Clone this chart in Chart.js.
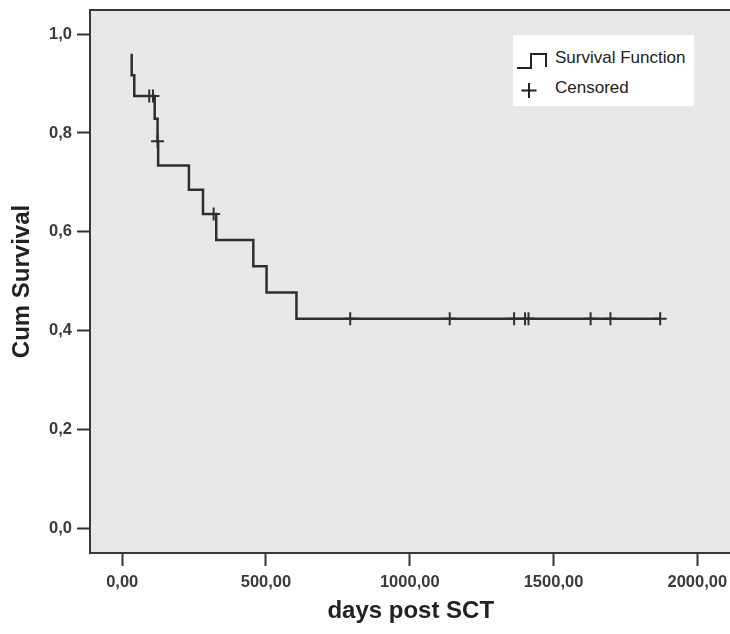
<!DOCTYPE html>
<html>
<head>
<meta charset="utf-8">
<title>Kaplan-Meier survival</title>
<script src="https://cdn.jsdelivr.net/npm/chart.js@4.4.1/dist/chart.umd.min.js"></script>
<style>
  html, body { margin: 0; padding: 0; background: #fff; overflow: hidden; }
  #wrap { position: relative; width: 730px; height: 634px; overflow: hidden; }
  #km { position: absolute; left: 0; top: 0; }
  .legend {
    position: absolute; left: 513px; top: 35px; width: 181px; height: 71px;
    background: #fff; color: #222;
    font-family: "Liberation Sans", Arial, sans-serif; font-size: 17px; line-height: 18px;
  }
  .legend span { position: absolute; left: 42px; white-space: nowrap; }
  .legend svg { position: absolute; left: 0; top: 0; }
</style>
</head>
<body>
<div id="wrap">
  <canvas id="km" width="740" height="634"></canvas>
  <div class="legend">
    <svg width="60" height="71">
      <path d="M4 33 H18 V19 H33 V32" fill="none" stroke="#222" stroke-width="2"/>
      <path d="M8.5 55.5 H23.5 M16 48 V63" fill="none" stroke="#222" stroke-width="2"/>
    </svg>
    <span style="top:14px">Survival Function</span>
    <span style="top:44px">Censored</span>
  </div>
</div>
<script>
// survival estimate at each event (day, cumulative survival)
const stepDays = [29, 33, 42, 113, 123, 125, 232, 281, 327, 456, 502, 606];
const survival = [0.958, 0.917, 0.875, 0.829, 0.783, 0.734, 0.685, 0.636, 0.583, 0.530, 0.477, 0.424];
const lastFollowUp = 1871;

// censored patients
const censorDays = [94, 107, 123, 318, 793, 1139, 1363, 1401, 1413, 1629, 1698, 1871];
const censorSurvival = [0.875, 0.875, 0.783, 0.636, 0.424, 0.424, 0.424, 0.424, 0.424, 0.424, 0.424, 0.424];

const xTicks = [0, 500, 1000, 1500, 2000];
const yTicks = [0, 0.2, 0.4, 0.6, 0.8, 1.0];

const curve = stepDays.map((d, i) => ({ x: d, y: survival[i] }));
curve.push({ x: lastFollowUp, y: survival[survival.length - 1] });
const censored = censorDays.map((d, i) => ({ x: d, y: censorSurvival[i] }));

const ink = '#2e2e2e';

// grey plot panel with a dark frame around it
const plotFrame = {
  id: 'plotFrame',
  beforeDraw(chart) {
    const { ctx, chartArea: a } = chart;
    ctx.save();
    ctx.fillStyle = '#e8e8e9';
    ctx.fillRect(a.left, a.top, a.right - a.left, a.bottom - a.top);
    ctx.restore();
  },
  afterDraw(chart) {
    const { ctx, chartArea: a } = chart;
    ctx.save();
    ctx.strokeStyle = '#383838';
    ctx.lineWidth = 2;
    ctx.strokeRect(a.left, a.top, a.right - a.left, a.bottom - a.top);
    ctx.restore();
  }
};

Chart.defaults.font.family = '"Liberation Sans", Arial, sans-serif';

new Chart(document.getElementById('km'), {
  type: 'line',
  data: {
    datasets: [
      {
        label: 'Survival Function',
        data: curve,
        stepped: 'before',
        borderColor: ink,
        borderWidth: 2.5,
        pointRadius: 0,
        fill: false
      },
      {
        label: 'Censored',
        data: censored,
        showLine: false,
        pointStyle: 'cross',
        pointRadius: 6.5,
        pointBorderWidth: 2,
        pointBorderColor: ink
      }
    ]
  },
  options: {
    responsive: false,
    animation: false,
    layout: { padding: { top: 10, right: 6, bottom: 0, left: 0 } },
    plugins: {
      legend: { display: false },
      tooltip: { enabled: false }
    },
    scales: {
      x: {
        type: 'linear',
        min: -112,
        max: 2119,
        afterBuildTicks: s => { s.ticks = xTicks.map(v => ({ value: v })); },
        afterFit: s => { s.height = 81; s.paddingLeft = 0; s.paddingRight = 0; },
        ticks: {
          callback: v => v.toFixed(2).replace('.', ','),
          font: { size: 16.5, weight: 'bold' },
          color: '#3a3a3a',
          padding: 7,
          maxRotation: 0,
          autoSkip: false
        },
        grid: { drawOnChartArea: false, tickLength: 13, tickWidth: 2, tickColor: '#333' },
        border: { display: false },
        title: {
          display: true,
          text: 'days post SCT',
          font: { size: 24, weight: 'bold' },
          color: '#222',
          padding: { top: 0, bottom: 8 }
        }
      },
      y: {
        min: -0.0506,
        max: 1.049,
        afterBuildTicks: s => { s.ticks = yTicks.map(v => ({ value: v })); },
        afterFit: s => { s.width = 90; s.paddingTop = 0; s.paddingBottom = 0; },
        ticks: {
          callback: v => v.toFixed(1).replace('.', ','),
          font: { size: 16.5, weight: 'bold' },
          color: '#3a3a3a',
          padding: 5
        },
        grid: { drawOnChartArea: false, tickLength: 13, tickWidth: 2, tickColor: '#333' },
        border: { display: false },
        title: {
          display: true,
          text: 'Cum Survival',
          font: { size: 24, weight: 'bold' },
          color: '#222',
          padding: { top: 8, bottom: 0 }
        }
      }
    }
  },
  plugins: [plotFrame]
});
</script>
</body>
</html>
